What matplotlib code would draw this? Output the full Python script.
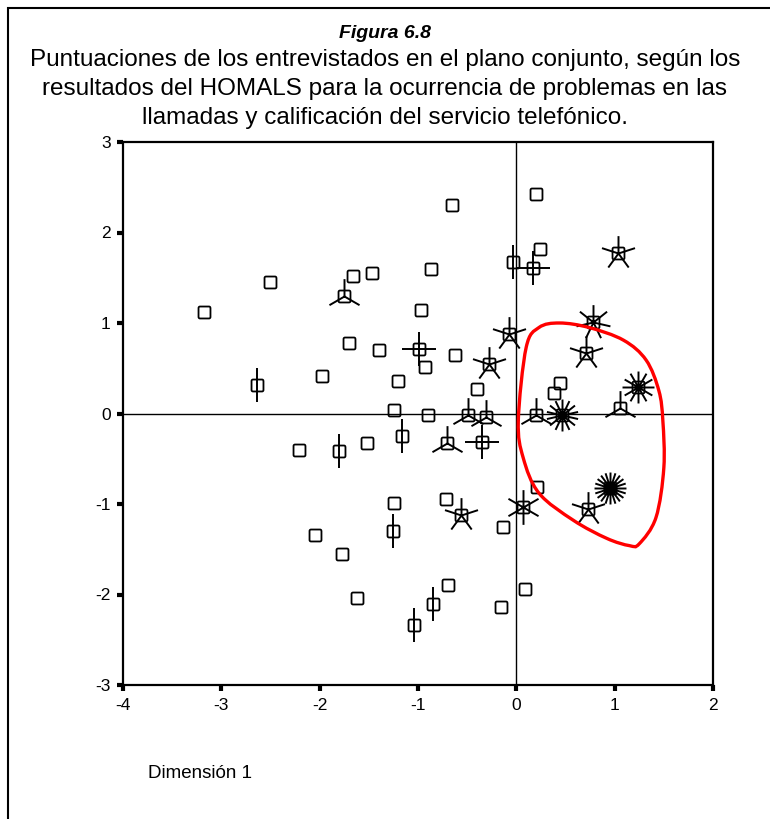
import numpy as np
import matplotlib.pyplot as plt
from matplotlib.path import Path
from matplotlib.patches import PathPatch, Rectangle

# puntuaciones (dimension 1, dimension 2) y numero de casos en cada punto
dim1 = [-3.18, -2.51, -2.64, -1.98, -2.21, -1.80, -2.05, -1.77, -1.62,
        -1.75, -1.66, -1.47, -1.70, -1.40, -0.65, -0.87, -0.97, -0.99,
        -0.62, -0.93, -0.07, -0.28, -1.20, -0.40, -1.24, -0.90, -0.49,
        -0.31, -1.52, -1.16, -0.71, -0.35, -1.24, -0.72, -0.56, -1.25,
        -0.14, -0.85, -0.69, -1.04, -0.16, 0.20, 0.46, 1.05, 0.21,
        0.07, 0.73, 0.95, 0.09, 0.20, 0.24, -0.03, 0.17, 1.03, 0.78,
        0.71, 0.44, 0.38, 1.24]
dim2 = [1.12, 1.45, 0.31, 0.41, -0.40, -0.41, -1.34, -1.55, -2.04,
        1.30, 1.52, 1.55, 0.78, 0.70, 2.30, 1.60, 1.14, 0.71,
        0.65, 0.51, 0.88, 0.55, 0.36, 0.27, 0.04, -0.02, -0.02,
        -0.04, -0.33, -0.25, -0.33, -0.31, -0.99, -0.95, -1.12, -1.30,
        -1.25, -2.10, -1.90, -2.34, -2.14, -0.02, -0.02, 0.06, -0.81,
        -1.03, -1.05, -0.82, -1.94, 2.43, 1.82, 1.67, 1.61, 1.77, 1.01,
        0.67, 0.34, 0.23, 0.29]
casos = [1, 1, 2, 1, 1, 2, 1, 1, 1,
         3, 1, 1, 1, 1, 1, 1, 1, 4,
         1, 1, 5, 5, 1, 1, 1, 1, 3,
         3, 1, 2, 3, 4, 1, 1, 5, 2,
         1, 2, 1, 2, 1, 3, 14, 3, 1,
         6, 5, 20, 1, 1, 1, 2, 4, 5, 7,
         5, 1, 1, 12]

# contorno rojo (region marcada a mano)
curva_x = [0.02, 0.10, 0.23, 0.44, 0.74, 1.09, 1.32, 1.45, 1.49, 1.50,
           1.42, 1.25, 1.15, 0.92, 0.58, 0.23, 0.07]
curva_y = [-0.08, 0.73, 0.95, 1.00, 0.95, 0.81, 0.59, 0.25, -0.08, -0.60,
           -1.15, -1.44, -1.46, -1.38, -1.18, -0.88, -0.49]


def cuadrado_redondeado(r=0.12, k=6):
    # cuadrado con esquinas redondeadas, lado 1
    verts = []
    h = 0.5
    for cx, cy, a0 in [(h - r, h - r, 0), (-h + r, h - r, 90),
                       (-h + r, -h + r, 180), (h - r, -h + r, 270)]:
        for t in np.linspace(a0, a0 + 90, k):
            verts.append((cx + r * np.cos(np.radians(t)),
                          cy + r * np.sin(np.radians(t))))
    verts.append(verts[0])
    return Path(verts)


def girasol(n):
    verts, codes = [], []
    for k in range(n):
        a = np.radians(90 + 360.0 * k / n)
        verts += [(0, 0), (np.cos(a), np.sin(a))]
        codes += [Path.MOVETO, Path.LINETO]
    return Path(verts, codes)


plt.rcParams['font.family'] = ['Liberation Sans', 'DejaVu Sans']
plt.rcParams['axes.unicode_minus'] = False
fig = plt.figure(figsize=(7.7, 8.19), dpi=100)

ax = fig.add_axes([123 / 770, 1 - 685 / 819, 590 / 770, 543 / 819])
ax.set_xlim(-4, 2)
ax.set_ylim(-3, 3)
ax.axhline(0, color='black', lw=1.0, zorder=1)
ax.axvline(0, color='black', lw=1.0, zorder=1)

caja = cuadrado_redondeado()
for x, y, n in zip(dim1, dim2, casos):
    if n > 1:
        ax.plot(x, y, marker=girasol(n), ms=25 if n < 10 else 23,
                mec='black', mew=1.4, ls='none', zorder=3)
    ax.plot(x, y, marker=caja, ms=8.6, mfc='none', mec='black', mew=1.3,
            ls='none', zorder=4)

# curva cerrada suave (Catmull-Rom -> Bezier)
P = np.column_stack([curva_x, curva_y])
m = len(P)
verts = [P[0]]
codes = [Path.MOVETO]
for i in range(m):
    p0, p1, p2, p3 = P[i - 1], P[i], P[(i + 1) % m], P[(i + 2) % m]
    verts += [p1 + (p2 - p0) / 6, p2 - (p3 - p1) / 6, p2]
    codes += [Path.CURVE4] * 3
ax.add_patch(PathPatch(Path(verts, codes), fill=False, ec='#ff0000',
                       lw=2.4, zorder=5))

for s in ax.spines.values():
    s.set_linewidth(1.6)
ax.set_xticks([-4, -3, -2, -1, 0, 1, 2])
ax.set_yticks([-3, -2, -1, 0, 1, 2, 3])
ax.tick_params(direction='out', length=4, width=3, labelsize=12.5, pad=5)

# titulo
fig.text(0.5, 1 - 34 / 819, 'Figura 6.8', ha='center', va='center',
         fontsize=14, fontweight='bold', fontstyle='italic')
lineas = ['Puntuaciones de los entrevistados en el plano conjunto, según los',
          'resultados del HOMALS para la ocurrencia de problemas en las',
          'llamadas y calificación del servicio telefónico.']
for i, t in enumerate(lineas):
    fig.text(0.5, 1 - (60 + 29 * i) / 819, t, ha='center', va='center',
             fontsize=17.5)

fig.text(148 / 770, 1 - 773 / 819, 'Dimensión 1', ha='left', va='center',
         fontsize=13.5)

# marco exterior
fig.patches.append(Rectangle((8 / 770, -0.05), 1.2, 1.05 - 8 / 819,
                             transform=fig.transFigure, fill=False,
                             ec='black', lw=1.5))

fig.savefig('out.png', dpi=100)
